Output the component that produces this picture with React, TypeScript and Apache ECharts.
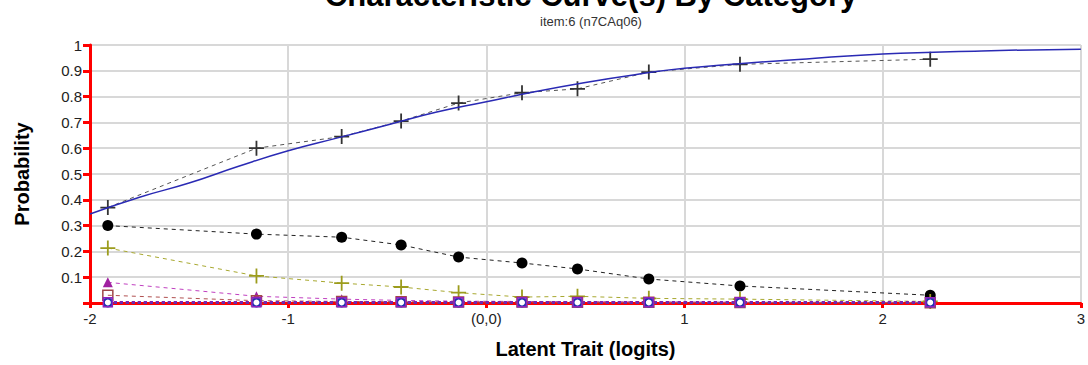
import React, { useEffect, useRef } from "react";
import * as echarts from "echarts";

const titleText = "Characteristic Curve(s) By Category";
const subtitleText = "item:6 (n7CAq06)";

// observed group means on the latent trait (logits)
const obsX = [-1.91, -1.16, -0.73, -0.43, -0.14, 0.18, 0.46, 0.82, 1.28, 2.24];
const obsTop = [0.37, 0.6, 0.645, 0.705, 0.775, 0.815, 0.83, 0.895, 0.925, 0.945];
const obsCircle = [0.3, 0.267, 0.255, 0.225, 0.178, 0.155, 0.132, 0.093, 0.066, 0.03];
const obsOlive = [0.213, 0.105, 0.077, 0.062, 0.04, 0.023, 0.026, 0.018, 0.015, 0.006];
const obsTriangle = [0.08, 0.026, 0.015, 0.01, 0.007, 0.006, 0.005, 0.004, 0.003, 0.002];
const obsSquare = [0.03, 0.009, 0.006, 0.005, 0.004, 0.004, 0.003, 0.003, 0.002, 0.001];
const obsTeal = [0.001, 0.001, 0.001, 0.001, 0.001, 0.001, 0.001, 0.001, 0.001, 0.001];
const obsBlue = [0.002, 0.002, 0.002, 0.002, 0.002, 0.002, 0.002, 0.002, 0.002, 0.002];
const obsPurple = [0.003, 0.003, 0.003, 0.003, 0.003, 0.003, 0.003, 0.003, 0.003, 0.003];

// model curve
const curveX = [-2, -1.75, -1.5, -1.25, -1, -0.75, -0.5, -0.25, 0, 0.25, 0.5, 0.75, 1, 1.5, 2, 2.5, 3];
const curveY = [0.345, 0.41, 0.465, 0.53, 0.59, 0.64, 0.69, 0.74, 0.78, 0.82, 0.855, 0.885, 0.91, 0.94, 0.965, 0.977, 0.984];

const PLUS = "path://M4.4,0 H5.6 V4.4 H10 V5.6 H5.6 V10 H4.4 V5.6 H0 V4.4 H4.4 Z";

const pairs = (xs: number[], ys: number[]) => xs.map((x, i) => [x, ys[i]]);

export default function App() {
  const ref = useRef<HTMLDivElement>(null);
  useEffect(() => {
    const chart = echarts.init(ref.current!, null, { renderer: "svg" });
    const font = "Liberation Sans, Arial, sans-serif";
    const obsSeries = (
      name: string,
      ys: number[],
      color: string,
      lineColor: string,
      symbol: string,
      size: number,
      lineType: any,
      width: number,
      filled = true
    ) => ({
      name,
      type: "line",
      data: pairs(obsX, ys),
      symbol,
      symbolSize: size,
      showSymbol: true,
      lineStyle: { color: lineColor, width, type: lineType },
      itemStyle: filled
        ? { color, borderWidth: 0 }
        : { color: "rgba(255,255,255,0)", borderColor: color, borderWidth: 1.5 },
      z: 3,
    });
    chart.setOption({
      animation: false,
      backgroundColor: "#fff",
      title: [
        {
          text: titleText,
          left: 586,
          top: -25,
          textAlign: "center",
          textStyle: { fontFamily: font, fontSize: 31, fontWeight: "bold", color: "#000" },
        },
        {
          text: subtitleText,
          left: 586,
          top: 10,
          textAlign: "center",
          textStyle: { fontFamily: font, fontSize: 13, fontWeight: "normal", color: "#333" },
        },
      ],
      grid: { left: 90, right: 6, top: 45, bottom: 62, containLabel: false },
      xAxis: {
        type: "value",
        min: -2,
        max: 3,
        interval: 1,
        name: "Latent Trait (logits)",
        nameLocation: "middle",
        nameGap: 36,
        nameTextStyle: { fontFamily: font, fontSize: 20, fontWeight: "bold", color: "#000" },
        axisLine: { onZero: false, lineStyle: { color: "#ff0000", width: 3 } },
        axisTick: { show: true, length: 5, lineStyle: { color: "#ff0000", width: 3 } },
        axisLabel: {
          fontFamily: font,
          fontSize: 15,
          color: "#222",
          margin: 8,
          formatter: (v: number) => (v === 0 ? "(0,0)" : String(v)),
        },
        splitLine: { show: true, lineStyle: { color: "#d8d8d8", width: 2 } },
      },
      yAxis: {
        type: "value",
        min: 0,
        max: 1,
        interval: 0.1,
        name: "Probability",
        nameLocation: "middle",
        nameGap: 58,
        nameTextStyle: { fontFamily: font, fontSize: 20, fontWeight: "bold", color: "#000" },
        axisLine: { show: true, onZero: false, lineStyle: { color: "#ff0000", width: 3 } },
        axisTick: { show: true, length: 7, lineStyle: { color: "#ff0000", width: 3 } },
        axisLabel: {
          fontFamily: font,
          fontSize: 15,
          color: "#222",
          margin: 8,
          formatter: (v: number) => (v === 0 ? "" : String(Math.round(v * 10) / 10)),
        },
        splitLine: { show: true, lineStyle: { color: "#d8d8d8", width: 2 } },
      },
      series: [
        {
          name: "model",
          type: "line",
          data: pairs(curveX, curveY),
          smooth: true,
          showSymbol: false,
          symbol: "none",
          lineStyle: { color: "#2a2ab4", width: 1.5 },
          z: 4,
        },
        obsSeries("cat top", obsTop, "#333333", "#555555", PLUS, 15, [4, 4], 1),
        obsSeries("cat circle", obsCircle, "#000000", "#222222", "circle", 11, [4, 4], 1),
        obsSeries("cat olive", obsOlive, "#9c9c1c", "#a8a830", PLUS, 15, [4, 4], 1),
        obsSeries("cat triangle", obsTriangle, "#a020a0", "#c040c0", "triangle", 10, [4, 4], 1),
        obsSeries("cat square", obsSquare, "#a04848", "#b05050", "rect", 10, [4, 4], 1, false),
        obsSeries("cat teal", obsTeal, "#20a8a8", "#20a8a8", "rect", 9, [3, 3], 2),
        obsSeries("cat blue", obsBlue, "#2030b0", "#2030c0", "emptyCircle", 8, [3, 3], 2.5),
        obsSeries("cat purple", obsPurple, "#9020c0", "#8020b0", "rect", 9, [3, 3], 2.5, false),
      ],
    });
    return () => chart.dispose();
  }, []);
  return (
    <div
      ref={ref}
      style={{ position: "fixed", left: 0, top: 0, width: 1088, height: 365 }}
    />
  );
}
